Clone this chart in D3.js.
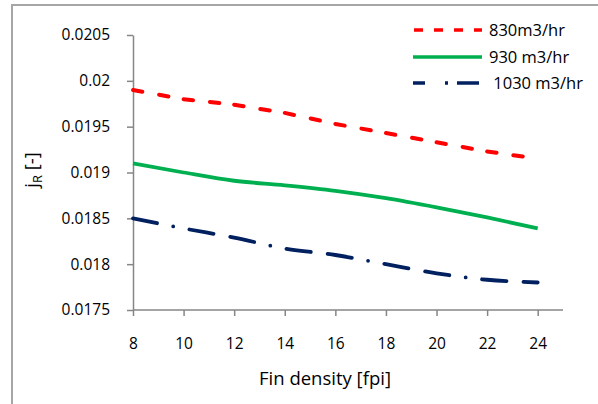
<!DOCTYPE html>
<html>
<head>
<meta charset="utf-8">
<script src="https://cdn.jsdelivr.net/npm/d3@7"></script>
<style>
  body { margin: 0; background: #fff; }
  svg { display: block; font-family: "Open Sans", sans-serif; }
  .axis path, .axis line { stroke: #868686; stroke-width: 1.5; }
  .axis text { font-size: 15.5px; fill: #000; }
</style>
</head>
<body>
<svg id="chart" width="598" height="404"></svg>
<script>
// fin density (fpi)
const finDensity = [8, 10, 12, 14, 16, 18, 20, 22, 24];
// j_R for each air flow rate
const jR830 = [0.0199, 0.0198, 0.01974, 0.01965, 0.01953, 0.01943, 0.01933, 0.01923, 0.01915];
const jR930 = [0.0191, 0.0190, 0.01891, 0.01886, 0.0188, 0.01872, 0.01862, 0.01851, 0.01839];
const jR1030 = [0.0185, 0.01839, 0.01829, 0.01817, 0.0181, 0.0180, 0.0179, 0.01783, 0.0178];

const seriesNames = ["830m3/hr", "930 m3/hr", " 1030 m3/hr"];
const xTicks = [8, 10, 12, 14, 16, 18, 20, 22, 24];
const yTicks = [0.0175, 0.018, 0.0185, 0.019, 0.0195, 0.02, 0.0205];
const yTickLabels = ["0.0175", "0.018", "0.0185", "0.019", "0.0195", "0.02", "0.0205"];

const svg = d3.select("#chart");

// outer chart frame (runs off the right and bottom edge)
svg.append("rect")
  .attr("x", 12).attr("y", 5)
  .attr("width", 620).attr("height", 440)
  .attr("fill", "none")
  .attr("stroke", "#a6a6a6")
  .attr("stroke-width", 2);

const x = d3.scaleLinear().domain([8, 25]).range([133, 563]);
const y = d3.scaleLinear().domain([0.0175, 0.0205]).range([310, 35]);

svg.append("g")
  .attr("class", "axis")
  .attr("transform", "translate(0,310)")
  .call(d3.axisBottom(x).tickValues(xTicks).tickSize(6).tickSizeOuter(0).tickPadding(22))
  .call(g => g.select(".domain").attr("d", "M133,0H563"));

svg.append("g")
  .attr("class", "axis")
  .attr("transform", "translate(133,0)")
  .call(d3.axisLeft(y).tickValues(yTicks).tickSize(6).tickSizeOuter(0).tickPadding(17)
    .tickFormat((d, i) => yTickLabels[i]));

svg.selectAll(".axis text").attr("font-family", "Open Sans");

// axis titles
svg.append("text")
  .attr("x", 325).attr("y", 385)
  .attr("text-anchor", "middle")
  .attr("font-size", "18.5px")
  .text("Fin density [fpi]");

const yt = svg.append("text")
  .attr("transform", "translate(38,170) rotate(-90)")
  .attr("text-anchor", "middle")
  .attr("font-size", "18.5px");
yt.append("tspan").text("j");
yt.append("tspan").attr("font-size", "13px").attr("dy", 4).text("R");
yt.append("tspan").attr("dy", -4).text(" [-]");

const pts = vals => finDensity.map((f, i) => [x(f), y(vals[i])]);

// 830: dashed, pattern restarts on every segment
const p830 = pts(jR830);
svg.append("g").selectAll("line")
  .data(d3.pairs(p830))
  .join("line")
  .attr("x1", d => d[0][0]).attr("y1", d => d[0][1])
  .attr("x2", d => d[1][0]).attr("y2", d => d[1][1])
  .attr("stroke", "#ff0000")
  .attr("stroke-width", 4)
  .attr("stroke-linecap", "round")
  .attr("stroke-dasharray", "9.5,17");

// 930: solid smoothed
const smooth = d3.line().curve(d3.curveMonotoneX);
svg.append("path")
  .attr("d", smooth(pts(jR930)))
  .attr("fill", "none")
  .attr("stroke", "#00b050")
  .attr("stroke-width", 3.8);

// 1030: long dash dot
svg.append("path")
  .attr("d", smooth(pts(jR1030)))
  .attr("fill", "none")
  .attr("stroke", "#002060")
  .attr("stroke-width", 3.8)
  .attr("stroke-linecap", "round")
  .attr("stroke-dasharray", "24.5,16.5,0,16.5,24.5,17");

// legend
const legendY = [30, 57, 83];
const legendX = [489, 489, 489];
const lg = svg.append("g");
lg.append("line").attr("x1", 414).attr("x2", 482).attr("y1", legendY[0]).attr("y2", legendY[0])
  .attr("stroke", "#ff0000").attr("stroke-width", 3.3).attr("stroke-dasharray", "9,11");
lg.append("line").attr("x1", 413).attr("x2", 482).attr("y1", legendY[1]).attr("y2", legendY[1])
  .attr("stroke", "#00b050").attr("stroke-width", 3.3);
lg.append("line").attr("x1", 413).attr("x2", 479).attr("y1", legendY[2]).attr("y2", legendY[2])
  .attr("stroke", "#002060").attr("stroke-width", 3.3).attr("stroke-dasharray", "12,20,3,9,22,20");
lg.selectAll("text")
  .data(seriesNames)
  .join("text")
  .attr("x", (d, i) => legendX[i])
  .attr("y", (d, i) => legendY[i])
  .attr("dy", "0.36em")
  .attr("font-size", "16.5px")
  .style("white-space", "pre")
  .text(d => d);
</script>
</body>
</html>
